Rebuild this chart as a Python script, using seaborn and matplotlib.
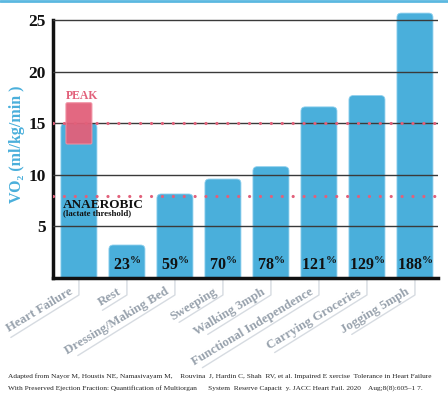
import seaborn as sns
import matplotlib.pyplot as plt
import matplotlib.transforms as mtransforms
from matplotlib.patches import FancyBboxPatch
from matplotlib.lines import Line2D
import pandas as pd

# values
activities = ['Heart Failure', 'Rest', 'Dressing/Making Bed', 'Sweeping', 'Walking 3mph',
              'Functional Independence', 'Carrying Groceries', 'Jogging 5mph']
vo2 = [15.0, 3.2, 8.15, 9.6, 10.8, 16.6, 17.7, 25.7]
pct_labels = ['', '23', '59', '70', '78', '121', '129', '188']
peak_range = [13, 17]
peak_line = 15
anaerobic_line = 8
y_ticks = [5, 10, 15, 20, 25]

blue = '#4aafdb'
pink = '#e2607a'
gray = '#98a2ad'

sns.set_style('white')
plt.rcParams['font.family'] = ['Liberation Serif', 'DejaVu Serif']
plt.rcParams['mathtext.fontset'] = 'custom'
plt.rcParams['mathtext.rm'] = 'Liberation Serif'
plt.rcParams['mathtext.bf'] = 'Liberation Serif:bold'

df = pd.DataFrame({'activity': activities, 'vo2': vo2})

fig = plt.figure(figsize=(4.48, 3.98), dpi=100)
ax = fig.add_axes([53 / 448, 1 - 278 / 398, 385 / 448, 268 / 398])
sns.barplot(data=df, x='activity', y='vo2', color=blue, width=0.75, saturation=1, ax=ax)
ax.set_ylim(0, 26)
ax.set_xlim(-0.54, 7.48)

# rounded-top bars
for p in list(ax.patches):
    x0, w, h = p.get_x(), p.get_width(), p.get_height()
    fb = FancyBboxPatch((x0, -2), w, h + 2, boxstyle='round,pad=0,rounding_size=0.09',
                        mutation_aspect=4.6, facecolor=blue, edgecolor='#8fd0ee',
                        lw=0.6, zorder=2)
    ax.add_patch(fb)
    p.remove()

for y in y_ticks:
    ax.axhline(y, color='#3a3a3a', lw=1.0, zorder=3)

# peak box
ax.add_patch(FancyBboxPatch((-0.27, peak_range[0]), 0.54, peak_range[1] - peak_range[0],
                            boxstyle='round,pad=0,rounding_size=0.03', mutation_aspect=4.6,
                            facecolor=pink, edgecolor='#f08ea0', lw=0.8, alpha=0.95, zorder=4))
ax.text(-0.28, 17.35, 'PEAK', color=pink, fontsize=8.5, fontweight='bold', zorder=5)

for y in (peak_line, anaerobic_line):
    ax.axhline(y, color=pink, lw=2.3, linestyle=(0, (0.01, 3.4)), dash_capstyle='round', zorder=5)

ax.text(-0.33, 6.8, 'ANAEROBIC', fontsize=9.5, fontweight='bold', color='#111111', zorder=5)
ax.text(-0.33, 6.05, '(lactate threshold)', fontsize=6.3, fontweight='bold', color='#111111', zorder=5)

for i, t in enumerate(pct_labels):
    if t:
        ax.text(i, 0.75, r'$\mathbf{' + t + r'^{\%}}$', ha='center', va='baseline',
                fontsize=11.5, color='#111111', zorder=5)

ax.set_yticks(y_ticks)
ax.set_yticklabels([str(v) for v in y_ticks], fontsize=12.5, fontweight='bold', color='#111111')
ax.tick_params(axis='y', length=4, width=1, color='#333333', pad=1)
ax.set_ylabel('VO₂ (ml/kg/min )', color=blue, fontsize=11.5, fontweight='bold', labelpad=3)
ax.set_xlabel('')
ax.set_xticks(range(len(activities)))
ax.set_xticklabels([])
ax.tick_params(axis='x', length=0)

for side in ('top', 'right'):
    ax.spines[side].set_visible(False)
ax.spines['left'].set_bounds(0, 25)
ax.spines['left'].set_linewidth(2.5)
ax.spines['left'].set_color('#111111')
ax.spines['bottom'].set_linewidth(2.5)
ax.spines['bottom'].set_color('#111111')
ax.spines['bottom'].set_zorder(6)

# slanted category labels with a leader line
for i, lab in enumerate(activities):
    base = fig.dpi_scale_trans + mtransforms.ScaledTranslation(i, 0, ax.transData)
    L = (5.7 * len(lab) + 6) / 100
    ax.add_line(Line2D([0, 0, -L * 0.85, ], [0, -0.17, -0.17 - L * 0.53],
                       transform=base, color='#d6dbe1', lw=1.0, clip_on=False))
    ax.text(-0.05, -0.155, lab, transform=base, rotation=31, ha='right', va='baseline',
            rotation_mode='anchor', fontsize=9.3, fontweight='bold', color=gray, clip_on=False)

fig.add_artist(Line2D([0, 1], [0.997, 0.997], transform=fig.transFigure, color='#5bb8e0', lw=2))

fig.text(8 / 448, 1 - 376 / 398,
         'Adapted from Nayor M, Houstis NE, Namasivayam M,    Rouvina  J, Hardin C, Shah  RV, et al. '
         'Impaired E xercise  Tolerance in Heart Failure', fontsize=5.3, va='center', color='#222222')
fig.text(8 / 448, 1 - 388 / 398,
         'With Preserved Ejection Fraction: Quantification of Multiorgan      System  Reserve Capacit  '
         'y. JACC Heart Fail. 2020    Aug;8(8):605\u20131 7.', fontsize=5.3, va='center', color='#222222')

fig.savefig('out.png', dpi=100)
